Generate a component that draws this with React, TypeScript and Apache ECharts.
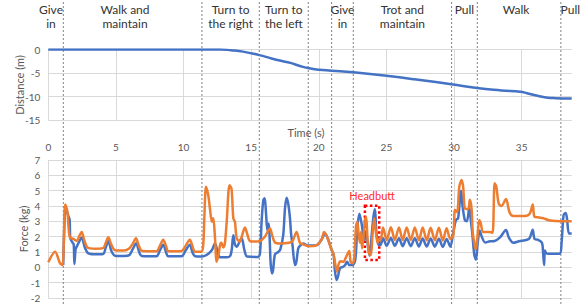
import React, { useEffect, useRef } from "react";
import * as echarts from "echarts";

const FONT = "Lato, 'Open Sans', 'Noto Sans', sans-serif";

// Time axis ticks (s)
const timeMin = 0;
const timeMax = 38.7;
const timeStep = 5;

// Upper chart: distance (m) vs time (s)
const distanceData: [number, number][] = [
  [0, 0], [12.7, 0], [13.5, -0.15], [14.4, -0.45], [15.6, -1.2], [16.5, -1.9],
  [17.2, -2.4], [17.9, -2.85], [18.6, -3.5], [19.2, -3.95], [20.0, -4.3],
  [20.95, -4.5], [22.55, -4.85], [25.0, -5.6], [27.5, -6.5], [29.8, -7.4],
  [31.7, -8.2], [33.5, -8.7], [34.9, -9.0], [35.4, -9.3], [36.0, -9.75],
  [36.8, -10.2], [37.5, -10.35], [38.7, -10.4],
];

// Lower chart: force (kg), blue series
const forceBlue: [number, number][] = [
  [1.1, 0.15], [1.18, 2.5], [1.25, 3.75], [1.35, 3.7], [1.5, 3.3], [1.58, 3.1], [1.63, 1.9],
  [1.8, 1.6], [1.88, 1.5], [1.93, 0.22], [2.02, 1.2], [2.1, 1.35], [2.3, 1.7], [2.47, 1.95],
  [2.7, 1.3], [2.95, 0.92], [3.4, 0.85], [4.05, 0.87], [4.25, 1.3], [4.44, 1.75], [4.65, 1.1],
  [4.93, 0.76], [5.6, 0.74], [6.0, 0.8], [6.25, 1.2], [6.5, 1.57], [6.7, 1.05], [6.9, 0.74],
  [8.0, 0.72], [8.25, 1.1], [8.5, 1.48], [8.7, 1.0], [8.87, 0.72], [9.86, 0.72], [10.15, 1.1],
  [10.47, 1.48], [10.65, 1.0], [10.85, 0.72], [11.34, 0.7], [11.7, 0.8], [12.1, 1.13],
  [12.32, 1.57], [12.55, 0.9], [12.7, 0.65], [13.2, 0.65], [13.45, 0.75], [13.56, 1.13],
  [13.68, 2.1], [13.8, 1.5], [13.95, 1.35], [14.1, 1.6], [14.3, 1.89], [14.5, 1.13], [14.7, 0.7],
  [15.5, 0.68], [15.65, 0.9], [15.77, 2.97], [15.9, 4.4], [16.0, 4.5], [16.1, 3.5], [16.2, 2.4],
  [16.3, 2.86], [16.38, 1.6], [16.44, 0.26], [16.54, -0.39], [16.62, -0.17], [16.76, 0.85],
  [17.0, 1.0], [17.15, 1.15], [17.37, 2.1], [17.5, 3.85], [17.62, 4.54], [17.75, 4.1],
  [17.87, 3.2], [17.95, 2.2], [18.05, 1.5], [18.24, 0.15], [18.35, 0.4], [18.47, 1.2],
  [18.6, 1.4], [18.85, 1.55], [19.2, 1.42], [19.85, 1.45], [20.2, 1.8], [20.46, 2.2],
  [20.7, 1.8], [20.95, 1.13], [21.1, 0.8], [21.2, -0.28], [21.32, -0.83], [21.42, -0.6],
  [21.56, -0.07], [21.8, 0.04], [21.95, 0.15], [22.1, 0.37], [22.25, 0.15], [22.5, 0.15],
  [22.7, 0.5], [22.85, 2.6], [23.0, 3.5], [23.16, 2.87], [23.29, 2.1], [23.38, 1.8],
  [23.48, 2.3], [23.6, 1.67], [23.75, 0.75], [23.85, 1.5], [24.03, 3.2], [24.15, 3.8],
  [24.25, 2.4], [24.4, 1.5], [24.55, 1.45],
  [24.75, 1.9], [25.02, 1.4], [25.33, 1.92], [25.62, 1.4], [25.93, 1.9], [26.2, 1.38],
  [26.5, 1.9], [26.8, 1.38], [27.1, 1.9], [27.4, 1.36], [27.68, 1.88], [27.98, 1.36],
  [28.27, 1.88], [28.58, 1.35], [28.88, 1.86], [29.17, 1.33], [29.45, 1.85], [29.72, 1.35],
  [29.95, 2.3], [30.14, 3.08], [30.3, 3.2], [30.45, 4.6], [30.52, 5.0], [30.62, 4.06],
  [30.8, 3.08], [30.95, 3.0], [31.13, 3.9], [31.25, 3.0], [31.35, 2.2], [31.5, 0.8],
  [31.62, 0.5], [31.75, 1.6], [31.9, 2.4], [32.05, 2.0], [32.3, 1.62], [32.66, 1.7],
  [33.0, 1.72], [33.4, 1.95], [33.84, 2.43], [34.05, 1.95], [34.38, 1.6], [34.8, 1.7],
  [35.4, 1.8], [35.6, 1.92], [35.82, 2.45], [35.95, 1.85], [36.2, 1.8], [36.5, 1.6],
  [36.58, 1.0], [36.66, 0.15], [36.72, 1.1], [36.85, 0.9], [37.8, 0.88], [37.95, 1.6],
  [38.1, 3.4], [38.25, 3.55], [38.35, 3.2], [38.5, 2.2], [38.7, 2.2],
];

// Lower chart: force (kg), orange series
const forceOrange: [number, number][] = [
  [0, 0.33], [0.5, 1.02], [0.87, 0.26], [1.05, 0.15], [1.2, 3.6], [1.25, 4.1], [1.4, 3.7],
  [1.5, 2.6], [1.6, 1.95], [1.85, 1.85], [2.1, 1.72], [2.3, 2.05], [2.47, 2.3], [2.65, 1.8],
  [2.9, 1.3], [3.5, 1.22], [4.05, 1.25], [4.25, 1.6], [4.44, 1.97], [4.65, 1.5], [4.93, 1.12],
  [5.6, 1.1], [6.0, 1.25], [6.25, 1.55], [6.48, 1.89], [6.7, 1.4], [6.9, 1.08], [7.5, 1.05],
  [8.0, 1.05], [8.25, 1.4], [8.5, 1.8], [8.7, 1.4], [8.87, 1.05], [9.4, 1.05], [9.86, 1.07],
  [10.15, 1.4], [10.47, 1.8], [10.65, 1.4], [10.85, 1.02], [11.3, 1.02], [11.45, 1.4],
  [11.55, 3.5], [11.66, 5.26], [11.83, 4.7], [11.95, 3.85], [12.1, 2.97], [12.2, 3.2],
  [12.32, 2.0], [12.45, 0.37], [12.58, 0.8], [12.7, 1.45], [12.8, 1.6], [12.94, 1.3],
  [13.05, 1.5], [13.19, 2.97], [13.4, 5.35], [13.55, 5.1], [13.68, 3.2], [13.8, 2.97],
  [13.93, 1.89], [14.15, 1.68], [14.3, 2.0], [14.54, 2.6], [14.7, 2.2], [14.9, 1.72],
  [15.2, 1.68], [15.6, 1.7], [16.0, 1.98], [16.39, 2.54], [16.55, 2.1], [16.76, 1.62],
  [17.2, 1.55], [17.8, 1.6], [18.05, 1.7], [18.36, 2.3], [18.6, 1.6], [18.85, 1.5],
  [19.22, 1.38], [19.85, 1.45], [20.2, 1.8], [20.4, 2.3], [20.65, 1.9], [20.9, 1.25],
  [21.1, 0.8], [21.35, -0.28], [21.45, 0.15], [21.6, 0.4], [21.85, 0.37], [21.95, 0.54],
  [22.25, 1.06], [22.35, 0.37], [22.5, 0.26], [22.62, 0.6], [22.75, 2.65], [22.85, 2.97],
  [22.95, 2.1], [23.05, 1.6], [23.12, 2.3], [23.2, 1.24], [23.3, 1.9], [23.41, 3.08],
  [23.5, 3.3], [23.6, 1.9], [23.72, 0.91], [23.85, 0.8], [23.97, 2.1], [24.1, 3.2],
  [24.22, 2.3], [24.35, 1.6], [24.5, 1.9], [24.58, 1.8],
  [24.75, 2.6], [25.02, 1.78], [25.33, 2.62], [25.62, 1.78], [25.93, 2.6], [26.2, 1.78],
  [26.5, 2.6], [26.8, 1.78], [27.1, 2.6], [27.4, 1.76], [27.68, 2.6], [27.98, 1.76],
  [28.27, 2.58], [28.58, 1.76], [28.88, 2.58], [29.17, 1.75], [29.45, 2.55], [29.72, 1.85],
  [29.95, 2.1], [30.07, 3.74], [30.23, 3.6], [30.39, 5.26], [30.56, 5.7], [30.68, 5.2],
  [30.8, 3.85], [31.05, 3.8], [31.17, 4.4], [31.3, 3.8], [31.38, 2.3], [31.5, 1.57],
  [31.6, 1.17], [31.72, 1.9], [31.87, 3.08], [31.97, 2.9], [32.17, 2.3], [32.66, 2.3],
  [32.85, 2.25], [33.0, 5.48], [33.12, 5.3], [33.3, 4.17], [33.5, 4.0], [33.84, 4.45],
  [34.1, 3.6], [34.38, 3.35], [35.25, 3.35], [35.6, 3.5], [35.82, 4.1], [35.95, 3.3],
  [36.3, 3.25], [36.6, 3.2], [37.1, 3.05], [37.9, 3.0], [38.7, 3.0],
];

// Phase boundaries (s) and phase labels with their centre time (s)
const phaseDividers = [1.11, 11.36, 15.6, 19.22, 20.95, 22.55, 29.82, 31.72, 37.9];
const phaseNames = [
  "Give\nin", "Walk and\nmaintain", "Turn to\nthe right", "Turn to\nthe left",
  "Give\nin", "Trot and\nmaintain", "Pull", "Walk", "Pull",
];
const phaseCenters = [0.2, 5.67, 13.48, 17.41, 21.75, 26.18, 30.77, 34.58, 38.6];

// Headbutt annotation box: [time, force] corners
const headbuttLabel = "Headbutt";
const headbuttBox: [[number, number], [number, number]] = [[23.41, 4.02], [24.47, 0.48]];

const GRID_COLOR = "#d9d9d9";
const LABEL_COLOR = "#595959";

export default function App() {
  const ref = useRef<HTMLDivElement>(null);

  useEffect(() => {
    if (!ref.current) return;
    const chart = echarts.init(ref.current, undefined, { renderer: "svg" });

    const tickCount = Math.floor((timeMax - timeMin) / timeStep) + 1;
    const vColors: string[] = [];
    for (let i = 0; i < tickCount; i++) vColors.push(GRID_COLOR);
    vColors.push("rgba(0,0,0,0)");

    const xCommon = {
      type: "value" as const,
      min: timeMin,
      max: timeMax,
      interval: timeStep,
      axisLine: { show: false, onZero: false },
      axisTick: { show: false },
      splitLine: { show: true, lineStyle: { color: vColors, width: 1 } },
    };
    const yCommon = {
      type: "value" as const,
      axisLine: { show: false, onZero: false },
      axisTick: { show: false },
      splitLine: { show: true, lineStyle: { color: GRID_COLOR, width: 1 } },
      axisLabel: { color: LABEL_COLOR, fontSize: 10, margin: 8, fontFamily: FONT },
    };

    chart.setOption({
      animation: false,
      textStyle: { fontFamily: FONT },
      grid: [
        { left: 48.3, top: 49.5, width: 523.4, height: 70.5 },
        { left: 48.3, top: 160, width: 523.4, height: 138 },
      ],
      xAxis: [
        { ...xCommon, gridIndex: 0, axisLabel: { show: false } },
        {
          ...xCommon,
          gridIndex: 1,
          position: "top",
          axisLabel: {
            color: LABEL_COLOR, fontSize: 10, margin: 8, fontFamily: FONT,
            showMaxLabel: false,
          },
        },
      ],
      yAxis: [
        { ...yCommon, gridIndex: 0, min: -15, max: 0, interval: 5 },
        { ...yCommon, gridIndex: 1, min: -2, max: 7, interval: 1 },
      ],
      series: [
        {
          type: "line",
          name: "Distance",
          xAxisIndex: 0,
          yAxisIndex: 0,
          data: distanceData,
          smooth: true,
          showSymbol: false,
          lineStyle: { color: "#4472C4", width: 2.5 },
          itemStyle: { color: "#4472C4" },
        },
        {
          type: "line",
          name: "Force 1",
          xAxisIndex: 1,
          yAxisIndex: 1,
          data: forceBlue,
          smooth: 0.3,
          showSymbol: false,
          lineStyle: { color: "#4472C4", width: 2.5, join: "round" },
          itemStyle: { color: "#4472C4" },
        },
        {
          type: "line",
          name: "Force 2",
          xAxisIndex: 1,
          yAxisIndex: 1,
          data: forceOrange,
          smooth: 0.3,
          showSymbol: false,
          lineStyle: { color: "#ED7D31", width: 2.5, join: "round" },
          itemStyle: { color: "#ED7D31" },
          markArea: {
            silent: true,
            itemStyle: {
              color: "rgba(0,0,0,0)",
              borderColor: "#ff0000",
              borderWidth: 2.5,
              borderType: [2.5, 2.5],
            },
            label: {
              show: true,
              position: "top",
              distance: 3,
              color: "#ff2a2a",
              fontSize: 11,
              fontFamily: FONT,
            },
            data: [
              [
                { name: headbuttLabel, coord: headbuttBox[0] },
                { coord: headbuttBox[1] },
              ],
            ],
          },
        },
      ],
    });

    const graphics: any[] = [];
    phaseDividers.forEach((t) => {
      const x = chart.convertToPixel({ xAxisIndex: 1 }, t) as number;
      graphics.push({
        type: "line",
        silent: true,
        z: 0,
        shape: { x1: x, y1: 2, x2: x, y2: 304 },
        style: { stroke: "#808080", lineWidth: 1, lineDash: [2, 2] },
      });
    });
    phaseNames.forEach((name, i) => {
      const x = chart.convertToPixel({ xAxisIndex: 1 }, phaseCenters[i]) as number;
      graphics.push({
        type: "text",
        silent: true,
        x,
        y: 2,
        style: {
          text: name,
          align: "center",
          verticalAlign: "top",
          fontSize: 12,
          lineHeight: 14,
          fontFamily: FONT,
          fill: "#333333",
        },
      });
    });
    graphics.push({
      type: "text",
      silent: true,
      x: 306,
      y: 132,
      style: {
        text: "Time (s)",
        align: "center",
        verticalAlign: "middle",
        fontSize: 11,
        fontFamily: FONT,
        fill: LABEL_COLOR,
      },
    });
    graphics.push({
      type: "text",
      silent: true,
      x: 19,
      y: 85,
      rotation: Math.PI / 2,
      style: {
        text: "Distance (m)",
        align: "center",
        verticalAlign: "middle",
        fontSize: 11,
        fontFamily: FONT,
        fill: LABEL_COLOR,
      },
    });
    graphics.push({
      type: "text",
      silent: true,
      x: 23,
      y: 229,
      rotation: Math.PI / 2,
      style: {
        text: "Force (kg)",
        align: "center",
        verticalAlign: "middle",
        fontSize: 11,
        fontFamily: FONT,
        fill: LABEL_COLOR,
      },
    });
    chart.setOption({ graphic: graphics });

    return () => chart.dispose();
  }, []);

  return (
    <div
      ref={ref}
      style={{ position: "fixed", left: 0, top: 0, width: 585, height: 304, background: "#fff" }}
    />
  );
}
